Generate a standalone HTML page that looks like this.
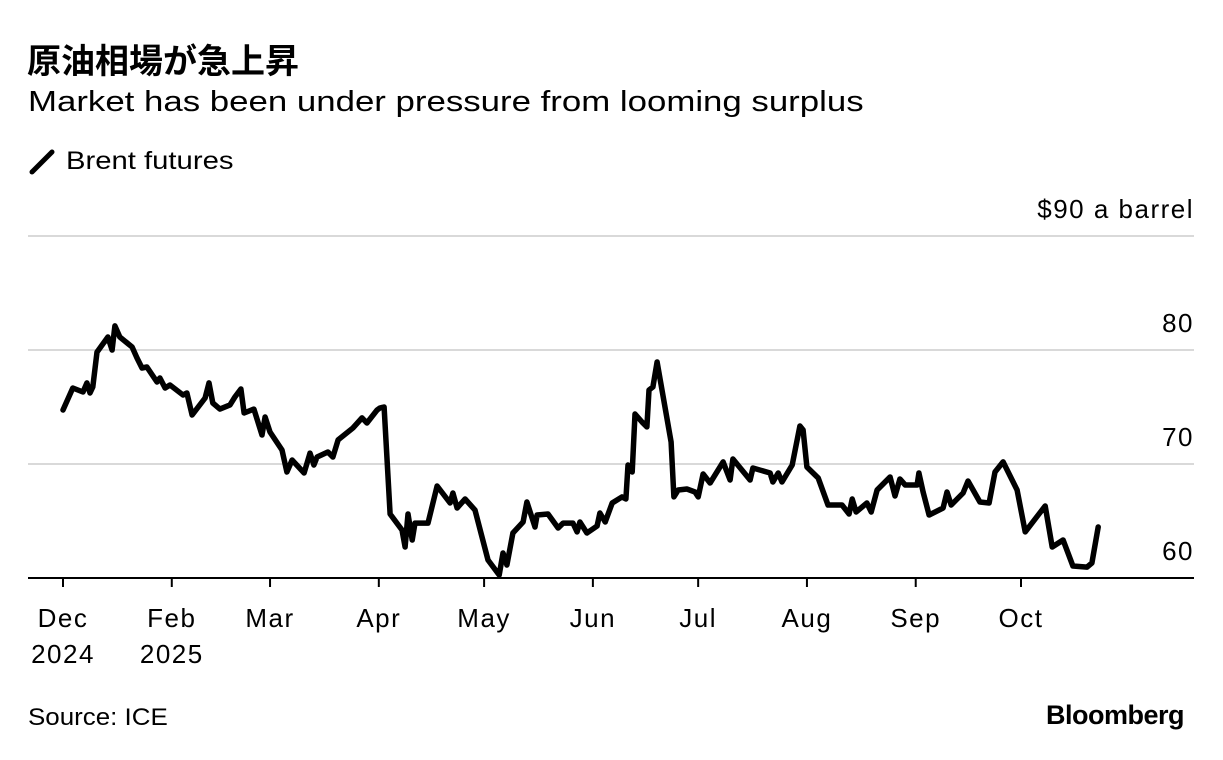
<!DOCTYPE html>
<html><head><meta charset="utf-8">
<style>
body{margin:0;background:#fff;width:1223px;height:760px;overflow:hidden;font-family:"Liberation Sans","Noto Sans CJK JP",sans-serif;color:#000}
.t{position:absolute;white-space:nowrap;transform-origin:left top}
</style></head><body>
<div class="t" style="left:27px;top:34px;font-size:34px;font-weight:bold">原油相場が急上昇</div>
<div class="t" style="left:28px;top:86px;font-size:29px;transform:scaleX(1.2)">Market has been under pressure from looming surplus</div>
<svg width="30" height="30" style="position:absolute;left:28px;top:147px"><line x1="4" y1="25" x2="24" y2="5" stroke="#000" stroke-width="5" stroke-linecap="round"/></svg>
<div class="t" style="left:66px;top:147px;font-size:25px;transform:scaleX(1.17)">Brent futures</div>
<svg id="chart" width="1223" height="760" style="position:absolute;left:0;top:0"></svg>
<div class="t" style="left:28px;top:704px;font-size:24px;transform:scaleX(1.08)">Source: ICE</div>
<div class="t" style="right:39px;top:700px;font-size:27px;font-weight:bold;letter-spacing:-0.5px">Bloomberg</div>
<script>
const days=[0,2.8,5.7,6.8,7.7,8.5,9.7,12.8,14.0,14.8,16.2,19.7,21.1,22.5,23.9,26.8,27.6,29.1,30.5,34.2,35.3,36.8,40.5,41.6,42.7,44.7,47.6,49.0,50.7,51.6,54.4,56.7,57.6,59.0,62.4,63.8,65.3,68.7,70.4,71.5,72.4,75.5,76.9,78.4,82.6,85.2,86.6,89.5,90.3,91.5,93.2,96.6,97.5,98.3,99.5,100.3,104.0,106.6,110.3,111.1,112.3,114.6,117.4,119.4,121.1,124.3,125.4,126.5,128.2,131.1,132.2,134.5,135.1,138.2,141.1,142.5,145.3,146.5,147.3,149.3,152.2,153.0,154.5,156.5,159.3,160.4,161.0,162.2,163.0,165.0,166.4,167.0,168.1,169.3,173.3,174.1,175.3,177.8,180.1,181.0,182.4,184.4,188.1,190.1,190.9,195.8,196.6,201.5,202.3,203.8,204.9,207.8,210.0,210.9,212.0,215.2,218.0,222.0,224.0,224.9,226.0,229.1,230.3,232.0,235.7,237.1,238.5,240.0,243.4,243.9,245.1,246.8,250.8,251.9,253.1,256.5,257.9,261.3,263.9,265.6,267.9,271.9,274.2,277.9,279.9,281.9,285.0,287.8,291.8,293.2,295.0];
const prices=[74.74,76.67,76.32,77.11,76.23,76.75,79.82,81.14,80.0,82.11,81.14,80.26,79.30,78.42,78.51,77.19,77.54,76.67,76.93,76.05,76.23,74.30,75.79,77.11,75.35,74.82,75.18,75.88,76.58,74.47,74.82,72.54,74.12,72.81,71.23,69.30,70.35,69.21,70.96,69.91,70.61,71.05,70.61,72.11,73.16,74.04,73.60,74.74,74.91,75.0,65.61,64.21,62.72,65.61,63.33,64.82,64.82,68.07,66.58,67.46,66.14,66.93,65.96,63.60,61.58,60.26,62.19,61.14,63.95,64.91,66.67,64.47,65.53,65.61,64.39,64.82,64.82,64.04,64.91,63.95,64.56,65.70,64.91,66.58,67.11,66.93,69.91,69.30,74.39,73.68,73.25,76.49,76.75,78.95,71.93,67.11,67.72,67.81,67.54,67.11,69.12,68.33,70.18,68.60,70.44,68.60,69.65,69.21,68.42,69.21,68.42,69.91,73.33,72.98,69.74,68.77,66.40,66.40,65.61,66.93,65.79,66.58,65.79,67.72,68.86,67.19,68.68,68.16,68.16,69.21,67.54,65.53,66.14,67.54,66.40,67.46,68.51,66.67,66.58,69.30,70.18,67.72,64.04,65.53,66.32,62.72,63.33,61.05,60.96,61.32,64.47];
const tickDays=[0,31,59,90,120,151,181,212,243,273];
const tickMonths=["Dec","Feb","Mar","Apr","May","Jun","Jul","Aug","Sep","Oct"];
const tickYears=["2024","2025","","","","","","","",""];
const yTicks=[60,70,80,90];
const yLabels=["60","70","80","$90 a barrel"];
const NS="http://www.w3.org/2000/svg";
const svg=document.getElementById('chart');
const x=d=>63+d*(1021-63)/273;
const y=v=>578-(v-60)*11.4;
function mk(tag,attrs){const e=document.createElementNS(NS,tag);for(const k in attrs)e.setAttribute(k,attrs[k]);svg.appendChild(e);return e;}
const TF={'font-size':26,'letter-spacing':1.5,'font-family':'Liberation Sans, sans-serif'};
yTicks.forEach((v,i)=>{
  if(v>60){const g=mk('line',{x1:28,x2:1194,y1:y(v),y2:y(v),stroke:'#d9d9d9','stroke-width':2});
  
  }
  const t=mk('text',Object.assign({x:1194,y:y(v)-18,'text-anchor':'end'},TF));
  t.textContent=yLabels[i];
  
  
});
const ax=mk('line',{x1:28,x2:1194,y1:578,y2:578,stroke:'#000','stroke-width':2});


tickDays.forEach((d,i)=>{
  const tk=mk('line',{x1:x(d),x2:x(d),y1:578,y2:587,stroke:'#000','stroke-width':2});
  
  
  const t=mk('text',Object.assign({x:x(d),y:627,'text-anchor':'middle'},TF));
  t.textContent=tickMonths[i];
  
  
  if(tickYears[i]){const t2=mk('text',Object.assign({x:x(d),y:663,'text-anchor':'middle'},TF));
  t2.textContent=tickYears[i];
  
  }
});
const p=mk('path',{d:days.map((d,i)=>(i?'L':'M')+x(d).toFixed(1)+','+y(prices[i]).toFixed(1)).join(''),fill:'none',stroke:'#000','stroke-width':5.5,'stroke-linejoin':'round','stroke-linecap':'round'});


</script>
</body></html>
